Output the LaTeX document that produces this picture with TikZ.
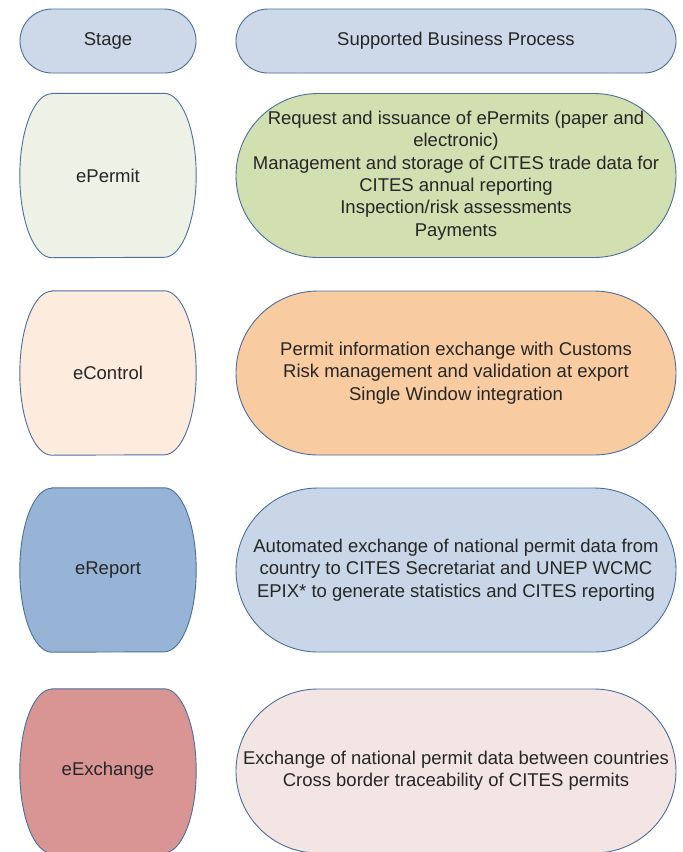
\documentclass[tikz,border=0pt]{standalone}
\usepackage{fontspec}
\setmainfont{Liberation Sans}
\usepackage{xcolor}
\usetikzlibrary{calc,backgrounds}

\definecolor{edgeblue}{HTML}{4A6F9C}
\definecolor{headfill}{HTML}{CDD9E8}
\definecolor{permitlight}{HTML}{EEF2E6}
\definecolor{permitfill}{HTML}{D1DFB1}
\definecolor{controllight}{HTML}{FDEBDD}
\definecolor{controlfill}{HTML}{F9CBA0}
\definecolor{reportdark}{HTML}{97B3D5}
\definecolor{reportfill}{HTML}{C8D6E8}
\definecolor{exchangedark}{HTML}{D89594}
\definecolor{exchangefill}{HTML}{F4E5E5}

\tikzset{
    stagebox/.style={draw=none, minimum width=176, minimum height=164, inner sep=0},
    procbox/.style={rectangle, rounded corners=82, draw=edgeblue, line width=0.9,
        minimum width=440, minimum height=164, inner sep=0, align=center},
    headbox/.style={rectangle, rounded corners=32, draw=edgeblue, line width=0.9,
        fill=headfill, minimum height=64, inner sep=0},
    stageline/.style={draw=edgeblue, line width=0.9}
}

% outline of a stage box: flat top and bottom, bulging sides
\newcommand{\stageoutline}[2]{%
    \draw[stageline, fill=#2] ($(#1.north west)+(32,0)$) -- ($(#1.north east)+(-32,0)$)
        arc[start angle=-90, end angle=90, x radius=32, y radius=82]
        -- ($(#1.south west)+(32,0)$)
        arc[start angle=90, end angle=270, x radius=32, y radius=82] -- cycle;}

\begin{document}
\begin{tikzpicture}[x=1pt, y=-1pt,
    every node/.style={font=\fontsize{18.5}{22.4}\selectfont, text=black!85}]
    \useasboundingbox (0,0) rectangle (683,852);
    \clip (0,0) rectangle (683,852);

    % =====================
    % Header
    % =====================
    \node[headbox, minimum width=176] (stagehead) at (108,41) {Stage};
    \node[headbox, minimum width=440] (prochead) at (456,41) {Supported Business Process};

    % =====================
    % ePermit
    % =====================
    \node[stagebox] (epermit) at (108,175.5) {ePermit};
    \node[procbox, fill=permitfill] (epermitproc) at (456,175.5)
        {Request and issuance of ePermits (paper and\\ electronic)\\
         Management and storage of CITES trade data for\\ CITES annual reporting\\
         Inspection/risk assessments\\ Payments};

    % =====================
    % eControl
    % =====================
    \node[stagebox] (econtrol) at (108,373) {eControl};
    \node[procbox, fill=controlfill] (econtrolproc) at (456,373)
        {Permit information exchange with Customs\\
         Risk management and validation at export\\
         Single Window integration};

    % =====================
    % eReport
    % =====================
    \node[stagebox] (ereport) at (108,570) {eReport};
    \node[procbox, fill=reportfill] (ereportproc) at (456,570)
        {Automated exchange of national permit data from\\
         country to CITES Secretariat and UNEP WCMC\\
         EPIX* to generate statistics and CITES reporting};

    % =====================
    % eExchange
    % =====================
    \node[stagebox] (eexchange) at (108,771) {eExchange};
    \node[procbox, fill=exchangefill] (eexchangeproc) at (456,771)
        {Exchange of national permit data between countries\\
         Cross border traceability of CITES permits};

    % stage outlines behind the labels
    \begin{scope}[on background layer]
        \stageoutline{epermit}{permitlight}
        \stageoutline{econtrol}{controllight}
        \stageoutline{ereport}{reportdark}
        \stageoutline{eexchange}{exchangedark}
    \end{scope}
\end{tikzpicture}
\end{document}
